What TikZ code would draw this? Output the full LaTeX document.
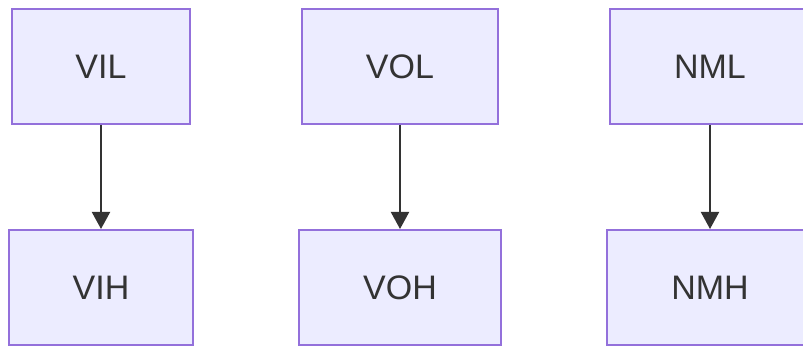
\documentclass[tikz,border=0pt]{standalone}
\usepackage{fontspec}
\setmainfont{Liberation Sans}
\usetikzlibrary{arrows.meta}
\definecolor{boxfill}{HTML}{ECECFF}
\definecolor{boxline}{HTML}{9370DB}
\definecolor{txt}{HTML}{333333}
\begin{document}
\begin{tikzpicture}[x=1pt,y=-1pt,
  box/.style={draw=boxline,fill=boxfill,line width=2pt,text=txt,
    font=\fontsize{34}{40}\selectfont,inner sep=0pt,minimum height=115pt},
  conn/.style={draw=txt,line width=2pt,-{Triangle[length=17pt,width=18pt]}}]
\useasboundingbox (0,0) rectangle (803,347);
\node[box,minimum width=178pt] (vil) at (101,66.5) {VIL};
\node[box,minimum width=184pt] (vih) at (101,287.5) {VIH};
\node[box,minimum width=196pt] (vol) at (400,66.5) {VOL};
\node[box,minimum width=202pt] (voh) at (400,287.5) {VOH};
\node[box,minimum width=200pt] (nml) at (710,66.5) {NML};
\node[box,minimum width=206pt] (nmh) at (710,287.5) {NMH};
\draw[conn] (vil.south) -- (vih.north);
\draw[conn] (vol.south) -- (voh.north);
\draw[conn] (nml.south) -- (nmh.north);
\end{tikzpicture}
\end{document}
